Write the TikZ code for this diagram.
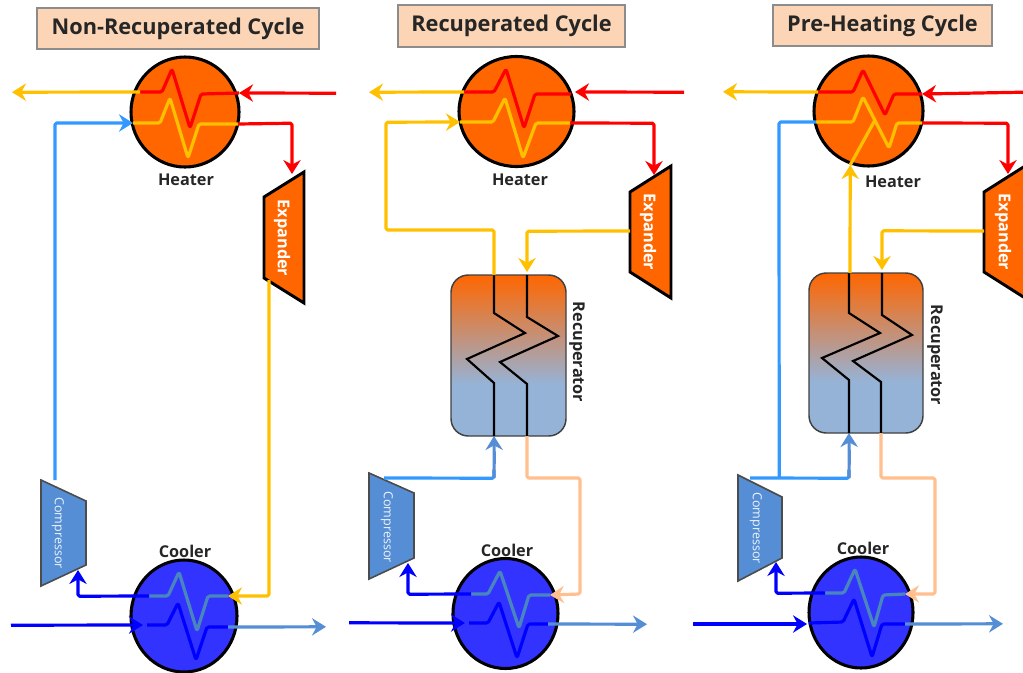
\documentclass[tikz,border=0pt]{standalone}
\usepackage{fontspec}
\setmainfont{Open Sans}
\usetikzlibrary{arrows.meta,shapes.geometric}
\definecolor{orng}{HTML}{FF6600}
\definecolor{yel}{HTML}{FFC000}
\definecolor{skyb}{HTML}{3399FF}
\definecolor{midb}{HTML}{558ED5}
\definecolor{teal2}{HTML}{4A86BE}
\definecolor{coolf}{HTML}{3333FF}
\definecolor{peach}{HTML}{FFBF8F}
\definecolor{titlef}{HTML}{FBD5B5}
\definecolor{recb}{HTML}{95B3D7}
\pgfdeclareverticalshading{recupshade}{100bp}{color(0bp)=(recb); color(41bp)=(recb); color(75bp)=(orng); color(100bp)=(orng)}
\tikzset{
  flow/.style={line width=2.4pt,line join=round,rounded corners=1.2pt},
  arr/.style={flow,-{Stealth[length=10.5pt,width=13pt,inset=3.5pt]}},
  exch/.style n args={3}{ellipse,draw=black,line width=2.3pt,fill=#1,inner sep=0pt,minimum width=#2*0.75pt,minimum height=#3*0.75pt},
  recup/.style 2 args={rectangle,rounded corners=13pt,draw=black!75,line width=1.1pt,shading=recupshade,inner sep=0pt,minimum width=#1*0.75pt,minimum height=#2*0.75pt},
  titlebox/.style={rectangle,draw=black!45,line width=1pt,fill=titlef,inner sep=0pt,font=\bfseries\fontsize{16.3}{18}\selectfont,text=black!85},
  complabel/.style={font=\bfseries\fontsize{12.2}{14}\selectfont,text=black!85},
  explabel/.style={rotate=-90,font=\bfseries\fontsize{12.2}{14}\selectfont,text=white},
  cmplabel/.style={rotate=-90,font=\fontsize{9.4}{11}\selectfont,text=white!90!midb},
  expander/.style={draw=black,line width=2.2pt,fill=orng,line join=miter},
  compressor/.style={draw=black!70,line width=1.2pt,fill=midb,line join=miter},
  coil/.style={line width=1.6pt,draw=black,line join=miter},
}
\begin{document}
\begin{tikzpicture}[x=0.75pt,y=-0.75pt]
\useasboundingbox (0,0) rectangle (1023,672);
\clip (0,0) rectangle (1023,672);

%% ---------- Panel 1 ----------
\node[titlebox,minimum width=282*0.75pt,minimum height=41*0.75pt] (t1) at (178,28.5) {Non-Recuperated Cycle};
\node[exch={orng}{108}{110}] (h1) at (185,112) {};
\node[exch={coolf}{106}{112}] (c1) at (184,616) {};
\node[complabel] (hl1) at (186,180) {Heater};
\node[complabel] (cl1) at (185,551) {Cooler};
\draw[expander] (264,197) -- (304,172) -- (304,303) -- (264,278) -- cycle;
\node[explabel] (el1) at (282,238) {Expander};
\draw[compressor] (41,480) -- (86,501) -- (86,565) -- (41,586) -- cycle;
\node[cmplabel] (pl1) at (58,533) {Compressor};
\coordinate (h1a) at (140,92);
\coordinate (h1b) at (239,93);
\coordinate (h1c) at (133,123);
\coordinate (h1d) at (238,124);
\coordinate (e1i) at (292,174);
\coordinate (e1o) at (269,280);
\coordinate (p1o) at (55,480);
\coordinate (p1i) at (78,570);
\coordinate (c1a) at (228,596);
\coordinate (c1b) at (149,596);
\coordinate (c1c) at (147,625);
\coordinate (c1d) at (228,627);
\coordinate (f1a) at (12,92.2);
\coordinate (f1b) at (336,93.2);
\coordinate (f1c) at (11,625.2);
\coordinate (f1d) at (326,626.8);
\coordinate (f1e) at (143,625);
\draw[flow,red] (h1a) -- (162,92) -- (172,69) -- (190,128) -- (201,94) -- (h1b);
\draw[flow,yel] (h1c) -- (160,123) -- (170,98) -- (188,158) -- (199,124) -- (h1d);
\draw[flow,teal2] (c1b) -- (168,596) -- (179,572) -- (197,631) -- (208,596) -- (c1a);
\draw[flow,blue] (c1c) -- (167,625) -- (178,603) -- (196,660) -- (207,627) -- (c1d);
\draw[arr,yel] (h1a) -- (f1a);
\draw[arr,red] (f1b) -- (h1b);
\draw[arr,skyb] (p1o) -- (55,123) -- (h1c);
\draw[arr,red] (h1d) -- (292,123.2) -- (e1i);
\draw[arr,yel] (e1o) -- (269,596) -- (c1a);
\draw[arr,blue] (c1b) -- (78,596.2) -- (p1i);
\draw[arr,blue] (f1c) -- (f1e);
\draw[arr,midb] (c1d) -- (f1d);

%% ---------- Panel 2 ----------
\node[titlebox,minimum width=227*0.75pt,minimum height=42*0.75pt] (t2) at (511.5,26) {Recuperated Cycle};
\node[exch={orng}{115}{110}] (h2) at (516.5,111.5) {};
\node[exch={coolf}{105}{110}] (c2) at (505.5,613.5) {};
\node[recup={115}{161}] (r2) at (508.5,355.5) {};
\node[complabel] (hl2) at (520,180) {Heater};
\node[complabel] (cl2) at (507,550) {Cooler};
\node[complabel,rotate=-90] (rl2) at (577,352) {Recuperator};
\draw[expander] (630,192) -- (671,166) -- (671,298) -- (630,272) -- cycle;
\node[explabel] (el2) at (648,232) {Expander};
\draw[compressor] (369,473) -- (414,493) -- (414,558) -- (369,579) -- cycle;
\node[cmplabel] (pl2) at (387,527) {Compressor};
\coordinate (r2a) at (494,275);
\coordinate (r2b) at (527,275);
\coordinate (r2c) at (494,436);
\coordinate (r2d) at (527,436);
\coordinate (h2a) at (464,92);
\coordinate (h2b) at (571,94);
\coordinate (h2c) at (460,122);
\coordinate (h2d) at (570,123);
\coordinate (e2i) at (654,175);
\coordinate (e2o) at (630,231);
\coordinate (p2o) at (384,478);
\coordinate (p2i) at (408,563);
\coordinate (c2a) at (550,595);
\coordinate (c2b) at (471,594);
\coordinate (c2c) at (465,623);
\coordinate (c2z) at (469,623);
\coordinate (c2d) at (548,624);
\coordinate (f2a) at (369,92.2);
\coordinate (f2b) at (684,92.2);
\coordinate (f2c) at (349,622.8);
\coordinate (f2d) at (647,624.2);
\coordinate (f2e) at (575,92);
\draw[coil] (r2a) -- (494,313) -- (525,333) -- (467,359) -- (494,383) -- (r2c);
\draw[coil] (r2b) -- (527,317) -- (558,336) -- (500,362) -- (527,384) -- (r2d);
\draw[flow,red] (h2a) -- (494,92) -- (506,69) -- (524,128) -- (535,94) -- (h2b);
\draw[flow,yel] (h2c) -- (493,122) -- (505,98) -- (523,158) -- (536,123) -- (h2d);
\draw[flow,teal2] (c2b) -- (488,594) -- (500,571) -- (519,628) -- (529,595) -- (c2a);
\draw[flow,blue] (c2z) -- (488,623) -- (499,602) -- (517,658) -- (528,624) -- (c2d);
\draw[arr,yel] (h2a) -- (f2a);
\draw[arr,red] (f2b) -- (f2e);
\draw[arr,yel] (r2a) -- (494,230) -- (386,230) -- (386,122.2) -- (h2c);
\draw[arr,red] (h2d) -- (654,123.2) -- (e2i);
\draw[arr,yel] (e2o) -- (527,231.2) -- (527,272);
\draw[flow,skyb] (p2o) -- (494,478.2) -- (494,470);
\draw[arr,midb] (494,478) -- (494.2,458) -- (r2c);
\draw[arr,peach] (r2d) -- (527,478) -- (580,478) -- (580,594) -- (c2a);
\draw[arr,blue] (c2b) -- (408,594.2) -- (p2i);
\draw[arr,blue] (f2c) -- (c2c);
\draw[arr,midb] (c2d) -- (f2d);

%% ---------- Panel 3 ----------
\node[titlebox,minimum width=219*0.75pt,minimum height=41*0.75pt] (t3) at (882.5,25.5) {Pre-Heating Cycle};
\node[exch={orng}{109}{110}] (h3) at (868.5,111) {};
\node[exch={coolf}{104}{111}] (c3) at (861,612.5) {};
\node[recup={114}{160}] (r3) at (866,353) {};
\node[complabel] (hl3) at (893,182) {Heater};
\node[complabel] (cl3) at (863,548) {Cooler};
\node[complabel,rotate=-90] (rl3) at (935,355) {Recuperator};
\draw[expander] (984,192) -- (1025,166) -- (1025,298) -- (984,272) -- cycle;
\node[explabel] (el3) at (1003,232) {Expander};
\draw[compressor] (738,475) -- (782,497) -- (782,558) -- (738,581) -- cycle;
\node[cmplabel] (pl3) at (756,528) {Compressor};
\coordinate (r3a) at (850,273);
\coordinate (r3b) at (882,273);
\coordinate (r3c) at (849,433);
\coordinate (r3d) at (881,433);
\coordinate (h3a) at (818,92);
\coordinate (h3b) at (922,94);
\coordinate (h3c) at (816,122);
\coordinate (h3d) at (922,123);
\coordinate (h3e) at (850.2,165);
\coordinate (h3f) at (875,120);
\coordinate (e3i) at (1008,174);
\coordinate (e3o) at (984,231);
\coordinate (p3o) at (750,478);
\coordinate (p3i) at (776,562);
\coordinate (c3a) at (905,594);
\coordinate (c3b) at (825,593);
\coordinate (c3c) at (809,623);
\coordinate (c3d) at (905,624);
\coordinate (f3a) at (723,91.8);
\coordinate (f3b) at (1023,92.2);
\coordinate (f3c) at (693,624);
\coordinate (f3d) at (1003,623.8);
\coordinate (f3e) at (807,624);
\coordinate (j3) at (779.2,478);
\draw[coil] (849,273) -- (849,313) -- (880,333) -- (822,358) -- (849,380) -- (r3c);
\draw[coil] (r3b) -- (882,315) -- (912,335) -- (853,361) -- (881,382) -- (r3d);
\draw[flow,red] (h3a) -- (853,92) -- (863,70) -- (885,115) -- (894,94) -- (h3b);
\draw[flow,yel] (h3c) -- (853,122) -- (863,97) -- (889,148) -- (897,123) -- (h3d);
\draw[flow,yel] (h3e) -- (h3f);
\draw[flow,teal2] (c3b) -- (844,593) -- (855,569) -- (874,627) -- (883,595) -- (c3a);
\draw[flow,blue] (c3c) -- (843,622) -- (854,599) -- (872,657) -- (882,624) -- (c3d);
\draw[arr,yel] (h3a) -- (f3a);
\draw[arr,red] (f3b) -- (h3b);
\draw[flow,skyb] (j3) -- (779,122) -- (h3c);
\draw[arr,yel] (r3a) -- (h3e);
\draw[arr,red] (h3d) -- (1008,123.2) -- (e3i);
\draw[arr,yel] (e3o) -- (882,230.8) -- (882,270);
\draw[flow,skyb] (p3o) -- (849,478.2) -- (849,470);
\draw[arr,midb] (849,478) -- (849.2,458) -- (r3c);
\draw[arr,peach] (r3d) -- (881,478) -- (935,478) -- (935,594) -- (c3a);
\draw[arr,blue] (c3b) -- (776,593.2) -- (p3i);
\draw[arr,blue] (f3c) -- (f3e);
\draw[arr,midb] (c3d) -- (f3d);
\end{tikzpicture}
\end{document}
